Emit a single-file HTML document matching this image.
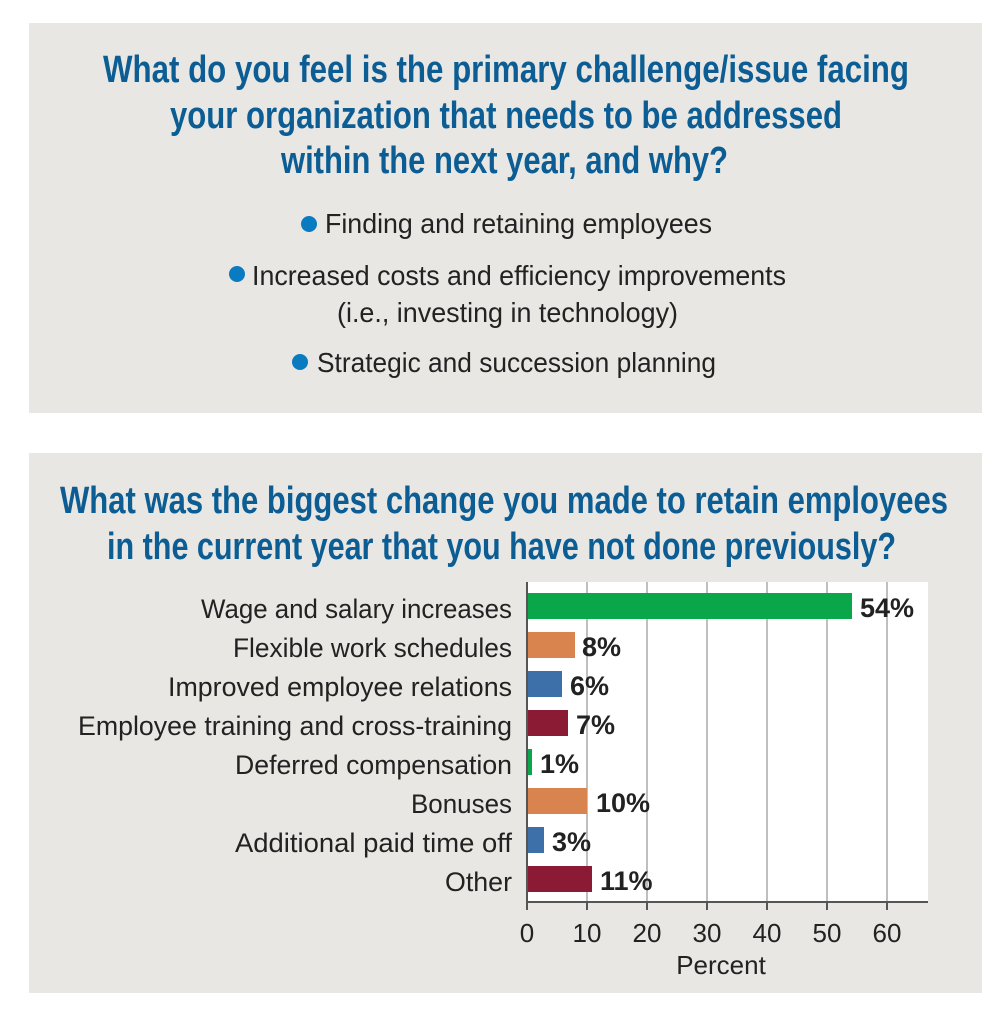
<!DOCTYPE html>
<html><head><meta charset="utf-8"><style>
html,body{margin:0;padding:0;background:#fff;}
svg{display:block;}
text{font-family:"Liberation Sans Narrow","Liberation Sans",sans-serif;}
.t{fill:#0b5d94;font-weight:bold;font-size:38px;}
.b{fill:#222;font-size:28px;}
.l{fill:#222;font-size:27px;font-family:"Liberation Sans",sans-serif;}
.v{fill:#222;font-size:27px;font-weight:bold;font-family:"Liberation Sans",sans-serif;}
.k{fill:#222;font-size:26px;font-family:"Liberation Sans",sans-serif;}
</style></head><body>
<svg width="1005" height="1024" viewBox="0 0 1005 1024">
<rect width="1005" height="1024" fill="#fff"/>
<rect x="29" y="23" width="953" height="390" fill="#e8e7e3"/>
<rect x="29" y="453" width="953" height="540" fill="#e8e7e3"/>
<text class="t" x="103" y="82" textLength="806" lengthAdjust="spacingAndGlyphs">What do you feel is the primary challenge/issue facing</text>
<text class="t" x="170" y="128" textLength="672" lengthAdjust="spacingAndGlyphs">your organization that needs to be addressed</text>
<text class="t" x="281" y="173" textLength="447" lengthAdjust="spacingAndGlyphs">within the next year, and why?</text>
<circle cx="309" cy="224" r="8" fill="#0a7bc0"/>
<text class="b" x="325" y="233" textLength="387" lengthAdjust="spacingAndGlyphs">Finding and retaining employees</text>
<circle cx="237" cy="274" r="8" fill="#0a7bc0"/>
<text class="b" x="252" y="285" textLength="534" lengthAdjust="spacingAndGlyphs">Increased costs and efficiency improvements</text>
<text class="b" x="337" y="322" textLength="341" lengthAdjust="spacingAndGlyphs">(i.e., investing in technology)</text>
<circle cx="300" cy="362" r="8" fill="#0a7bc0"/>
<text class="b" x="317" y="372" textLength="399" lengthAdjust="spacingAndGlyphs">Strategic and succession planning</text>
<text class="t" x="60" y="513" textLength="888" lengthAdjust="spacingAndGlyphs">What was the biggest change you made to retain employees</text>
<text class="t" x="107" y="559" textLength="789" lengthAdjust="spacingAndGlyphs">in the current year that you have not done previously?</text>
<rect x="527" y="582" width="401" height="320" fill="#fff"/>
<g stroke="#aaa" stroke-width="1.5">
<line x1="587" y1="582" x2="587" y2="902"/><line x1="647" y1="582" x2="647" y2="902"/>
<line x1="707" y1="582" x2="707" y2="902"/><line x1="767" y1="582" x2="767" y2="902"/>
<line x1="827" y1="582" x2="827" y2="902"/><line x1="887" y1="582" x2="887" y2="902"/>
</g>
<g stroke="#555" stroke-width="2">
<line x1="527" y1="582" x2="527" y2="910"/><line x1="527" y1="902" x2="928" y2="902"/>
<line x1="587" y1="902" x2="587" y2="910"/><line x1="647" y1="902" x2="647" y2="910"/>
<line x1="707" y1="902" x2="707" y2="910"/><line x1="767" y1="902" x2="767" y2="910"/>
<line x1="827" y1="902" x2="827" y2="910"/><line x1="887" y1="902" x2="887" y2="910"/>
</g>
<rect x="528" y="593" width="324" height="26" fill="#0aa64a"/>
<rect x="528" y="632" width="47" height="26" fill="#d9834f"/>
<rect x="528" y="671" width="34" height="26" fill="#3d6fa8"/>
<rect x="528" y="710" width="40" height="26" fill="#8b1a35"/>
<rect x="528" y="749" width="4" height="26" fill="#0aa64a"/>
<rect x="528" y="788" width="59" height="26" fill="#d9834f"/>
<rect x="528" y="827" width="16" height="26" fill="#3d6fa8"/>
<rect x="528" y="866" width="64" height="26" fill="#8b1a35"/>
<text class="v" x="860" y="617">54%</text>
<text class="v" x="582" y="656">8%</text>
<text class="v" x="570" y="695">6%</text>
<text class="v" x="576" y="734">7%</text>
<text class="v" x="540" y="773">1%</text>
<text class="v" x="596" y="812">10%</text>
<text class="v" x="552" y="851">3%</text>
<text class="v" x="600" y="890">11%</text>
<text class="l" x="201" y="618" textLength="311" lengthAdjust="spacingAndGlyphs">Wage and salary increases</text>
<text class="l" x="233" y="657" textLength="279" lengthAdjust="spacingAndGlyphs">Flexible work schedules</text>
<text class="l" x="168" y="696" textLength="344" lengthAdjust="spacingAndGlyphs">Improved employee relations</text>
<text class="l" x="78" y="735" textLength="434" lengthAdjust="spacingAndGlyphs">Employee training and cross-training</text>
<text class="l" x="235" y="774" textLength="277" lengthAdjust="spacingAndGlyphs">Deferred compensation</text>
<text class="l" x="411" y="813" textLength="101" lengthAdjust="spacingAndGlyphs">Bonuses</text>
<text class="l" x="235" y="852" textLength="277" lengthAdjust="spacingAndGlyphs">Additional paid time off</text>
<text class="l" x="445" y="891" textLength="67" lengthAdjust="spacingAndGlyphs">Other</text>
<g text-anchor="middle">
<text class="k" x="527" y="942">0</text><text class="k" x="587" y="942">10</text>
<text class="k" x="647" y="942">20</text><text class="k" x="707" y="942">30</text>
<text class="k" x="767" y="942">40</text><text class="k" x="827" y="942">50</text>
<text class="k" x="887" y="942">60</text>
<text class="k" x="721" y="974">Percent</text>
</g>
</svg>
</body></html>
